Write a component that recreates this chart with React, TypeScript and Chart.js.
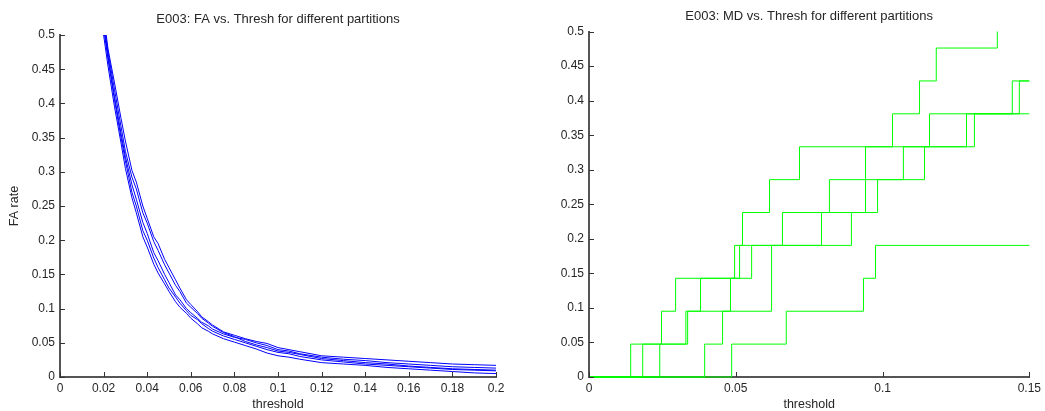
import React, { useEffect, useRef } from 'react';
import { Chart, registerables } from 'chart.js';

Chart.register(...registerables);

// ---------- FA vs threshold (left) ----------
const faThresholds = [0.02, 0.022, 0.025, 0.028, 0.03, 0.033, 0.035, 0.038, 0.04, 0.043, 0.045, 0.048, 0.05, 0.053, 0.055, 0.058, 0.06, 0.063, 0.065, 0.068, 0.07, 0.075, 0.08, 0.085, 0.09, 0.095, 0.1, 0.105, 0.11, 0.12, 0.13, 0.14, 0.15, 0.16, 0.17, 0.18, 0.19, 0.2];
const faPartition1 = [0.5, 0.455, 0.395, 0.342, 0.305, 0.262, 0.24, 0.205, 0.19, 0.165, 0.152, 0.136, 0.125, 0.11, 0.102, 0.093, 0.086, 0.078, 0.072, 0.067, 0.063, 0.056, 0.051, 0.046, 0.041, 0.035, 0.031, 0.029, 0.026, 0.021, 0.019, 0.017, 0.014, 0.012, 0.01, 0.008, 0.006, 0.005];
const faPartition2 = [0.51, 0.465, 0.405, 0.35, 0.316, 0.27, 0.25, 0.214, 0.2, 0.174, 0.16, 0.142, 0.13, 0.117, 0.108, 0.097, 0.09, 0.084, 0.078, 0.071, 0.067, 0.06, 0.055, 0.05, 0.045, 0.04, 0.036, 0.034, 0.03, 0.025, 0.022, 0.019, 0.017, 0.015, 0.013, 0.011, 0.01, 0.009];
const faPartition3 = [0.515, 0.47, 0.41, 0.356, 0.322, 0.281, 0.26, 0.226, 0.21, 0.182, 0.17, 0.15, 0.138, 0.12, 0.113, 0.1, 0.094, 0.086, 0.08, 0.075, 0.07, 0.063, 0.058, 0.055, 0.05, 0.046, 0.04, 0.038, 0.034, 0.029, 0.026, 0.024, 0.021, 0.019, 0.017, 0.015, 0.014, 0.013];
const faPartition4 = [0.52, 0.476, 0.42, 0.366, 0.33, 0.292, 0.275, 0.24, 0.225, 0.198, 0.185, 0.164, 0.152, 0.134, 0.125, 0.108, 0.102, 0.093, 0.086, 0.079, 0.074, 0.065, 0.059, 0.052, 0.047, 0.043, 0.038, 0.036, 0.033, 0.027, 0.024, 0.021, 0.019, 0.016, 0.014, 0.012, 0.011, 0.01];
const faPartition5 = [0.53, 0.48, 0.43, 0.378, 0.345, 0.302, 0.285, 0.25, 0.232, 0.205, 0.195, 0.172, 0.16, 0.142, 0.13, 0.113, 0.106, 0.096, 0.088, 0.081, 0.076, 0.066, 0.061, 0.056, 0.052, 0.049, 0.043, 0.04, 0.037, 0.031, 0.029, 0.027, 0.025, 0.023, 0.021, 0.019, 0.018, 0.017];

const faXTicks = [0, 0.02, 0.04, 0.06, 0.08, 0.1, 0.12, 0.14, 0.16, 0.18, 0.2];
const faXTickLabels = ['0', '0.02', '0.04', '0.06', '0.08', '0.1', '0.12', '0.14', '0.16', '0.18', '0.2'];

const yTicks = [0, 0.05, 0.1, 0.15, 0.2, 0.25, 0.3, 0.35, 0.4, 0.45, 0.5];
const yTickLabels = ['0', '0.05', '0.1', '0.15', '0.2', '0.25', '0.3', '0.35', '0.4', '0.45', '0.5'];

// ---------- MD vs threshold (right), step series ----------
// thresholds where a new miss-rate level begins, and that level
const mdA_x = [0, 0.0142, 0.033, 0.038, 0.0513, 0.0659, 0.0819, 0.1071, 0.1286, 0.1466, 0.15];
const mdA_y = [0, 0.0476, 0.0952, 0.1429, 0.1905, 0.2381, 0.2857, 0.3333, 0.381, 0.4286, 0.4286];
const mdB_x = [0, 0.0183, 0.0336, 0.0482, 0.0554, 0.0792, 0.0942, 0.116, 0.1442, 0.15];
const mdB_y = [0, 0.0476, 0.0952, 0.1429, 0.1905, 0.2381, 0.3333, 0.381, 0.4286, 0.4286];
const mdC_x = [0, 0.0241, 0.0247, 0.0295, 0.0496, 0.0523, 0.0615, 0.0717, 0.1034, 0.1126, 0.1183, 0.1391];
const mdC_y = [0, 0.0476, 0.0952, 0.1429, 0.1905, 0.2381, 0.2857, 0.3333, 0.381, 0.4286, 0.4762, 0.5238];
const mdD_x = [0, 0.0394, 0.0455, 0.0622, 0.0894, 0.0983, 0.1143, 0.1313, 0.15];
const mdD_y = [0, 0.0476, 0.0952, 0.1905, 0.2381, 0.2857, 0.3333, 0.381, 0.381];
const mdE_x = [0, 0.0486, 0.0672, 0.0935, 0.0976, 0.15];
const mdE_y = [0, 0.0476, 0.0952, 0.1429, 0.1905, 0.1905];

const mdXTicks = [0, 0.05, 0.1, 0.15];
const mdXTickLabels = ['0', '0.05', '0.1', '0.15'];

const FONT = "'Liberation Sans', Arial, Helvetica, sans-serif";
const TEXT = '#262626';
const AXIS = '#555555';

const inwardTicks = {
  id: 'inwardTicks',
  afterDatasetsDraw(chart: any) {
    const { ctx, chartArea, scales } = chart;
    ctx.save();
    ctx.strokeStyle = '#333333';
    ctx.lineWidth = 1;
    const xs = scales.x;
    const ys = scales.y;
    xs.ticks.forEach((t: any) => {
      const px = Math.round(xs.getPixelForValue(t.value)) + 0.5;
      ctx.beginPath();
      ctx.moveTo(px, chartArea.bottom);
      ctx.lineTo(px, chartArea.bottom - 5);
      ctx.stroke();
    });
    ys.ticks.forEach((t: any) => {
      const py = Math.round(ys.getPixelForValue(t.value)) + 0.5;
      ctx.beginPath();
      ctx.moveTo(chartArea.left, py);
      ctx.lineTo(chartArea.left + 5, py);
      ctx.stroke();
    });
    ctx.restore();
  },
};

function toPoints(xs: number[], ys: number[]) {
  return xs.map((x, i) => ({ x, y: ys[i] }));
}

function makeOptions(cfg: {
  title: string;
  titlePadTop: number;
  titlePadBottom: number;
  xMax: number;
  xTicks: number[];
  xLabels: string[];
  yTitle: string | null;
  yWidth: number;
  padRight: number;
}) {
  return {
    animation: false,
    responsive: false,
    devicePixelRatio: 1,
    layout: { padding: { left: 0, right: cfg.padRight, top: 0, bottom: 0 } },
    plugins: {
      legend: { display: false },
      tooltip: { enabled: false },
      title: {
        display: true,
        text: cfg.title,
        fullSize: false,
        color: TEXT,
        font: { family: FONT, size: 13, weight: 'normal', lineHeight: 1.2 },
        padding: { top: cfg.titlePadTop, bottom: cfg.titlePadBottom },
      },
    },
    elements: { point: { radius: 0 }, line: { tension: 0 } },
    scales: {
      x: {
        type: 'linear',
        min: 0,
        max: cfg.xMax,
        afterBuildTicks: (scale: any) => {
          scale.ticks = cfg.xTicks.map((v) => ({ value: v }));
        },
        afterFit: (scale: any) => {
          scale.height = 34;
        },
        ticks: {
          color: TEXT,
          padding: 4,
          maxRotation: 0,
          autoSkip: false,
          font: { family: FONT, size: 12 },
          callback: (_v: any, i: number) => cfg.xLabels[i],
        },
        grid: { display: true, drawOnChartArea: false, drawTicks: false },
        border: { display: true, color: AXIS, width: 2 },
        title: {
          display: true,
          text: 'threshold',
          color: TEXT,
          font: { family: FONT, size: 12.5, lineHeight: 1 },
          padding: { top: 0, bottom: 0 },
        },
      },
      y: {
        type: 'linear',
        min: 0,
        max: 0.5,
        afterBuildTicks: (scale: any) => {
          scale.ticks = yTicks.map((v) => ({ value: v }));
        },
        afterFit: (scale: any) => {
          scale.width = cfg.yWidth;
        },
        ticks: {
          color: TEXT,
          padding: 5,
          autoSkip: false,
          font: { family: FONT, size: 12 },
          callback: (_v: any, i: number) => yTickLabels[i],
        },
        grid: { display: true, drawOnChartArea: false, drawTicks: false },
        border: { display: true, color: AXIS, width: 2 },
        title: {
          display: !!cfg.yTitle,
          text: cfg.yTitle || '',
          color: TEXT,
          font: { family: FONT, size: 12.5, lineHeight: 1.2 },
          padding: { top: 7.5, bottom: 0 },
        },
      },
    },
  };
}

const CLIP = { left: 2, top: 0, right: 2, bottom: 2 };

function FaChart() {
  const ref = useRef<HTMLCanvasElement>(null);
  useEffect(() => {
    const series = [faPartition1, faPartition2, faPartition3, faPartition4, faPartition5];
    const chart = new Chart(ref.current as HTMLCanvasElement, {
      type: 'line',
      data: {
        datasets: series.map((s, i) => ({
          label: 'partition ' + (i + 1),
          data: toPoints(faThresholds, s),
          borderColor: '#0000ff',
          borderWidth: 1,
          pointRadius: 0,
          fill: false,
          clip: CLIP,
        })),
      },
      options: makeOptions({
        title: 'E003: FA vs. Thresh for different partitions',
        titlePadTop: 12,
        titlePadBottom: 7.4,
        xMax: 0.2,
        xTicks: faXTicks,
        xLabels: faXTickLabels,
        yTitle: 'FA rate',
        yWidth: 60,
        padRight: 34,
      }) as any,
      plugins: [inwardTicks],
    });
    return () => chart.destroy();
  }, []);
  return <canvas ref={ref} width={530} height={411} style={{ position: 'absolute', left: 0, top: 0, width: 530, height: 411 }} />;
}

function MdChart() {
  const ref = useRef<HTMLCanvasElement>(null);
  useEffect(() => {
    const series = [
      [mdA_x, mdA_y],
      [mdB_x, mdB_y],
      [mdC_x, mdC_y],
      [mdD_x, mdD_y],
      [mdE_x, mdE_y],
    ];
    const chart = new Chart(ref.current as HTMLCanvasElement, {
      type: 'line',
      data: {
        datasets: series.map(([xs, ys], i) => ({
          label: 'partition ' + (i + 1),
          data: toPoints(xs, ys),
          borderColor: '#00ff00',
          borderWidth: 1,
          pointRadius: 0,
          stepped: 'before',
          fill: false,
          clip: CLIP,
        })),
      },
      options: makeOptions({
        title: 'E003: MD vs. Thresh for different partitions',
        titlePadTop: 9,
        titlePadBottom: 7,
        xMax: 0.15,
        xTicks: mdXTicks,
        xLabels: mdXTickLabels,
        yTitle: null,
        yWidth: 59,
        padRight: 15,
      }) as any,
      plugins: [inwardTicks],
    });
    return () => chart.destroy();
  }, []);
  return <canvas ref={ref} width={515} height={411} style={{ position: 'absolute', left: 530, top: 0, width: 515, height: 411 }} />;
}

export default function App() {
  return (
    <div style={{ position: 'absolute', left: 0, top: 0, width: 1045, height: 411, background: '#ffffff', overflow: 'hidden' }}>
      <FaChart />
      <MdChart />
    </div>
  );
}
